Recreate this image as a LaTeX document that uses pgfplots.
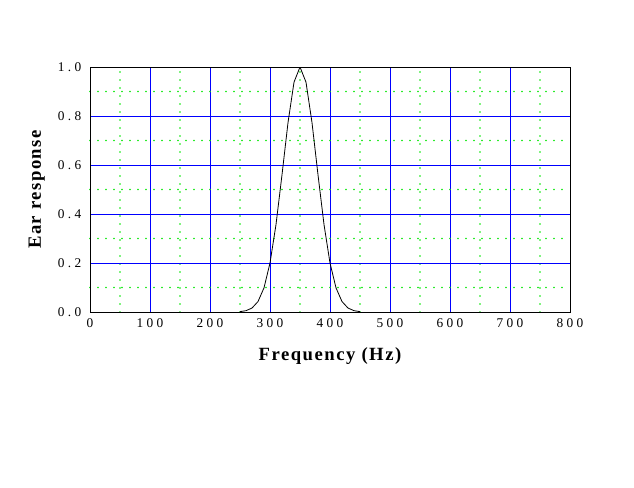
\documentclass[border=0pt]{standalone}
\usepackage{pgfplots}
\pgfplotsset{compat=1.18}
\usepackage{fontspec}
\setmainfont{Liberation Serif}
\newfontfamily\tickfont[LetterSpace=25]{Liberation Serif}
\newfontfamily\labfont[LetterSpace=8]{Liberation Serif}
\definecolor{gridblue}{RGB}{0,0,255}
\definecolor{gridgreen}{RGB}{0,230,0}
\begin{document}
\begin{tikzpicture}[x=1pt,y=1pt]
\useasboundingbox (-67.5,-131.25) rectangle (408,234);
\begin{axis}[
  at={(0,0)}, anchor=south west,
  scale only axis, width=360pt, height=183.75pt,
  xmin=0, xmax=800, ymin=0, ymax=1,
  xtick={0,100,200,300,400,500,600,700,800},
  ytick={0,0.2,0.4,0.6,0.8,1.0},
  minor xtick={50,150,250,350,450,550,650,750},
  minor ytick={0.1,0.3,0.5,0.7,0.9},
  grid=both,
  major grid style={gridblue, line width=0.75pt},
  minor grid style={gridgreen, line width=1.4pt, line cap=round, dash pattern=on 0pt off 6pt},
  axis line style={black, line width=0.75pt},
  major tick length=0pt, minor tick length=0pt,
  /pgf/number format/assume math mode=true,
  yticklabel style={/pgf/number format/fixed, /pgf/number format/fixed zerofill, /pgf/number format/precision=1, font=\tickfont\fontsize{10}{12}\selectfont, xshift=-3pt},
  xticklabel style={font=\tickfont\fontsize{10}{12}\selectfont, yshift=-1.5pt},
  xlabel={\labfont\bfseries Frequency (Hz)},
  ylabel={\labfont\bfseries Ear response},
  xlabel style={font=\fontsize{14}{16}\selectfont, at={(axis description cs:0.5,0)}, yshift=-23pt},
  ylabel style={font=\fontsize{14}{16}\selectfont, yshift=3pt},
]
\addplot[black, line width=0.6pt] coordinates {
(250,0.0016) (260,0.0054) (270,0.0162) (280,0.0427) (290,0.0986) (300,0.2)
(310,0.357) (320,0.560) (330,0.773) (340,0.938) (350,1.0)
(360,0.938) (370,0.773) (380,0.560) (390,0.357) (400,0.2)
(410,0.0986) (420,0.0427) (430,0.0162) (440,0.0054) (450,0.0016)
};
\end{axis}
\end{tikzpicture}
\end{document}
